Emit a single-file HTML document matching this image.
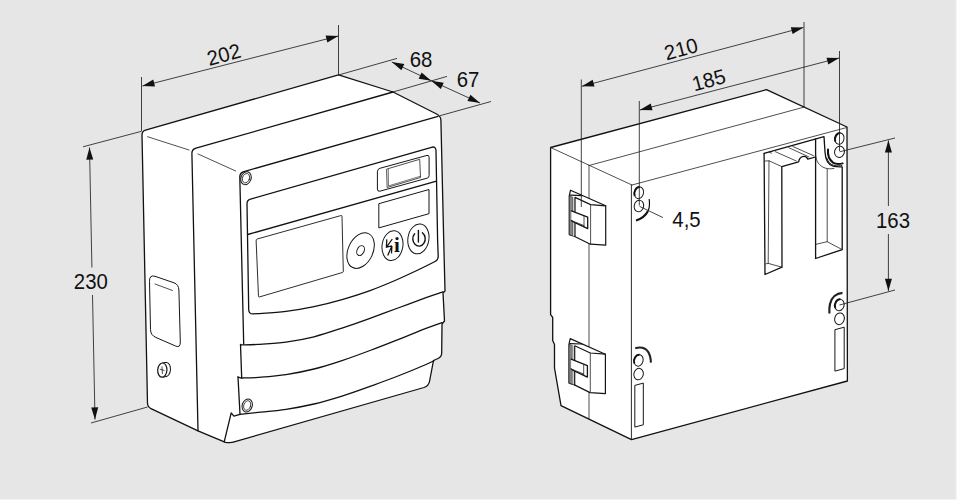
<!DOCTYPE html>
<html lang="en">
<head>
<meta charset="utf-8">
<title>Dimensions</title>
<style>
  html, body { margin: 0; padding: 0; background: #e6e6e6; }
  body { width: 957px; height: 500px; overflow: hidden; position: relative; }
  svg { display: block; position: absolute; left: 0; top: 0; }
  .edge-r { position: absolute; right: 0; top: 0; width: 2px; height: 500px; background: linear-gradient(to right, #ebebeb 0, #ebebeb 50%, #f4f4f4 50%, #f4f4f4 100%); }
  .edge-b { position: absolute; left: 0; bottom: 0; width: 957px; height: 1px; background: #f3f3f3; }
  text { font-family: "Liberation Sans", sans-serif; font-size: 20px; fill: #111; }
  .k  { fill: none; stroke: #111; stroke-width: 1.3; stroke-linejoin: round; stroke-linecap: round; }
  .m  { fill: none; stroke: #151515; stroke-width: 1.0; stroke-linejoin: round; stroke-linecap: round; }
  .t  { fill: none; stroke: #222; stroke-width: 0.8; stroke-linejoin: round; stroke-linecap: round; }
  .d  { fill: none; stroke: #222; stroke-width: 0.85; }
  .w  { fill: #fff; }
  .a  { fill: #111; stroke: none; }
</style>
</head>
<body>
<svg width="957" height="500" viewBox="0 0 957 500">
  <defs>
    <!-- arrow head pointing to +x, tip at origin -->
    <path id="ah" d="M0,0 L-12.2,-3.5 L-12.2,3.5 Z"/>
  </defs>

  <!-- ===================== LEFT DEVICE ===================== -->
  <g id="left-device">
    <!-- silhouette -->
    <path class="w k" d="M142,135 Q142,131.2 145.5,130.2 L338.5,74.8 L393,92 L436.6,114 Q440.6,116 440.9,120
      L443.7,240 L445,291 L443,293 L444.5,321 L442,324 L441.7,353 Q441.6,357 438,358.5 L433.5,360.5
      L429.6,381 Q428.8,386 424,387.5 L235,441.6 Q230.5,443.3 225.5,442.3 L198,430.8 L151,408.6 Q147.6,407 147.5,403 Z"/>

    <!-- second top edge + second vertical edge -->
    <path class="k" d="M393,92 L196,148.2 Q191.8,149.4 191.9,153.5 L198,430.8"/>
    <!-- front face top edge + left edge -->
    <path class="k" d="M438,116.3 L244,171.6 Q239.7,172.8 239.8,177 L243.7,344"/>
    <!-- crease lines -->
    <path class="t" d="M147.5,136.7 L189,150 M198,154 L235.7,171"/>

    <!-- screw top-left -->
    <g transform="translate(246 178.2) rotate(20)">
      <ellipse class="m" cx="0" cy="0" rx="5.1" ry="6.6"/>
      <ellipse class="t" cx="0" cy="0" rx="3.5" ry="4.8"/>
    </g>

    <!-- inner panel -->
    <path class="k" d="M247,204 Q246.9,200.2 250.5,199.2 L431.5,147.3 Q435.8,146 436,150.5 L437.6,240 L438.2,256
      Q438.3,260.3 434,262 C431.7,263.2 426.5,265.9 420,269 C413.5,272.1 403.3,276.9 395,280.5 C386.7,284.1 378.8,287.4 370,290.6 C361.2,293.8 351.3,296.9 342,299.6 C332.7,302.3 323.3,304.7 314,306.6 C304.7,308.6 295.3,310.1 286,311.3 C276.7,312.5 263.5,313.2 258,313.6 L253,313.9 Q248.8,314 248.7,309.6 Z"/>
    <!-- divider -->
    <path class="k" d="M247.8,234.5 L436.5,181.1"/>

    <!-- small window -->
    <path class="m" d="M377.4,171.4 Q377.4,169 379.9,168.3 L427,155.4 Q429.1,154.9 429.1,157.4 L429.1,175.6 Q429.1,177.6 427,178.2 L379.9,191.2 Q377.4,191.8 377.4,189.4 Z"/>
    <path class="t" d="M387,169 L419.7,159.3 L420.5,177.5 L387.5,187.4 Z"/>
    <path class="t" d="M388.3,169.4 L388.5,185.9 L420.2,176.3" style="stroke-width:0.6"/>
    <!-- second rect -->
    <path class="m" d="M379.2,203.6 L429,189.5 L429,213.7 L379.2,227.8 Z"/>
    <!-- large display -->
    <path class="m" d="M256.1,240.6 Q256,239.4 257.2,239 L340.8,215.6 Q342,215.2 342,216.4 L343.3,271.2 Q343.4,272.2 342.4,272.5 L259.6,296.9 Q258.6,297.3 258.5,296.2 Z" style="stroke-width:0.9"/>

    <!-- dial -->
    <g transform="translate(360.6 250.6) rotate(25)">
      <ellipse class="m" cx="0" cy="0" rx="12.4" ry="18.7"/>
      <ellipse class="m" cx="0" cy="0" rx="3.5" ry="5.2"/>
    </g>
    <!-- button 1 -->
    <g transform="translate(392.5 245.6) rotate(9)">
      <ellipse class="m" cx="0" cy="0" rx="10.4" ry="15"/>
    </g>
    <path d="M386.8,239.4 L386.4,247.1 L391.9,245.9 M392.3,239 L386.5,247.1 M391.9,245.9 L387.7,255.6 M391.9,245.9 L391.5,253.4" fill="none" stroke="#111" stroke-width="1.25" stroke-linejoin="miter"/>
    <text x="396.8" y="251.6" text-anchor="middle" style="font-family:'Liberation Serif',serif;font-weight:bold;font-size:21px">i</text>
    <!-- button 2 -->
    <g transform="translate(418.4 238.9) rotate(9)">
      <ellipse class="m" cx="0" cy="0" rx="10.5" ry="15"/>
    </g>
    <path d="M414.6,233.7 A6.2,7.3 0 1 0 422.4,232.7" fill="none" stroke="#111" stroke-width="1.4" stroke-linecap="round"/>
    <path d="M418.4,230.4 L418.4,242" fill="none" stroke="#111" stroke-width="1.4" stroke-linecap="round"/>

    <!-- front face bottom curve / flap curves -->
    <path class="k" d="M240.6,344.9 C243.5,344.8 250.4,344.9 258.0,344.4 C265.6,343.9 276.7,343.4 286.0,342.1 C295.3,340.8 304.7,339.1 314.0,336.8 C323.3,334.5 332.7,331.2 342.0,328.1 C351.3,325.0 360.7,321.7 370.0,318.3 C379.3,314.9 388.7,311.4 398.0,308.0 C407.3,304.6 418.5,300.3 426.0,297.6 C433.5,294.9 440.2,292.8 443.0,291.8"/>
    <path class="k" d="M240.5,344.5 L241.7,378"/>
    <path class="k" d="M238,377 L241.5,378 C244.2,377.9 250.6,378.0 258.0,377.4 C265.4,376.8 276.7,376.0 286.0,374.6 C295.3,373.2 304.7,371.3 314.0,369.0 C323.3,366.7 332.7,363.7 342.0,360.6 C351.3,357.5 360.7,354.0 370.0,350.5 C379.3,347.0 388.7,343.3 398.0,339.6 C407.3,335.9 418.7,331.2 426.0,328.4 C433.3,325.6 439.3,323.6 442.0,322.6"/>
    <path class="k" d="M238,377 L240,414.3 C243.0,414.0 250.3,413.2 258.0,412.4 C265.7,411.6 276.7,410.7 286.0,409.3 C295.3,407.9 304.7,406.2 314.0,404.0 C323.3,401.8 332.7,399.0 342.0,396.1 C351.3,393.2 360.7,389.8 370.0,386.4 C379.3,383.0 388.7,379.6 398.0,376.0 C407.3,372.4 420.0,367.1 426.0,364.5 C432.0,361.9 432.7,361.2 434.0,360.6"/>
    <!-- screw bottom-left -->
    <g transform="translate(247.2 405.5) rotate(20)">
      <ellipse class="m" cx="0" cy="0" rx="5" ry="6.6"/>
      <ellipse class="t" cx="0" cy="0" rx="3.4" ry="4.9"/>
    </g>
    <!-- base notch -->
    <path class="k" d="M240,414.3 L233.9,416.2 L231.2,412.9 L224.2,441.8"/>

    <!-- side window -->
    <path class="m" d="M149.5,281 Q149.3,274.5 155,276.3 L174,282.8 Q178.7,284.5 178.9,290 L180.3,342 Q180.5,348.3 175.5,346 L156,337.5 Q150.7,335.3 150.5,330 Z"/>
    <path class="t" d="M155,284 L172.5,290.5"/>
    <!-- side screw -->
    <ellipse class="m" cx="166" cy="369.5" rx="4.5" ry="7.1" transform="rotate(4 166 369.5)"/>
    <path d="M162.2,362.8 L166,362 L166,376.8 L163,377.4 Z" fill="#fff" stroke="none"/>
    <path class="m" d="M162.6,363 L166,362.4 M163,377.2 L166.4,376.5"/>
    <ellipse class="m w" cx="162.3" cy="370.1" rx="4.6" ry="7.1" transform="rotate(4 162.3 370.1)" style="stroke-width:1.2"/>
    <path class="t" d="M162,366.8 L162.4,373.6 M160.2,369.3 L164.1,370.4"/>
  </g>

  <!-- left device dimensions -->
  <g id="left-dims">
    <path class="d" d="M141.5,77 L141.5,131 M338.5,25 L338.5,75"/>
    <path class="d" d="M142.5,86 L338.3,36"/>
    <use href="#ah" class="a" transform="translate(142.3 86) rotate(165.7)"/>
    <use href="#ah" class="a" transform="translate(338.3 36) rotate(-14.3)"/>
    <text text-anchor="middle" transform="translate(225.8 61.5) rotate(-15) scale(1.02 1.04)">202</text>

    <path class="d" d="M338.5,75 L397,58.4 M393,92 L447,76.4 M440,115.7 L491,101.5"/>
    <path class="d" d="M391.8,62 L431.2,80.7 L480,103"/>
    <use href="#ah" class="a" transform="translate(391.8 62) rotate(204.9)"/>
    <use href="#ah" class="a" transform="translate(431.2 80.7) rotate(24.9)"/>
    <use href="#ah" class="a" transform="translate(431.2 80.7) rotate(204.9)"/>
    <use href="#ah" class="a" transform="translate(480 103) rotate(24.9)"/>
    <text text-anchor="middle" transform="translate(421 66.9) scale(1.02 1.07)">68</text>
    <text text-anchor="middle" transform="translate(468 86.9) scale(1.02 1.07)">67</text>

    <path class="d" d="M83,146.8 L141.5,131.3 M91,423 L147.5,407"/>
    <path class="d" d="M89.5,147.5 L91.9,267.5 M92.5,295 L95,419.5"/>
    <use href="#ah" class="a" transform="translate(89.5 147.5) rotate(-91.2)"/>
    <use href="#ah" class="a" transform="translate(95 419.5) rotate(88.8)"/>
    <text text-anchor="middle" transform="translate(90.8 288.8) scale(1.02 1.07)">230</text>
  </g>

  <!-- ===================== RIGHT DEVICE ===================== -->
  <g id="right-device">
    <!-- silhouette -->
    <path class="w k" d="M550.6,147.5 L766.5,89.7 L847,127 L847.4,381 L631.5,439.6 L561,405.6 L554.5,368 L554.5,344.5 L552.7,340.6 L552.7,317.3 L550.6,314.7 Z"/>
    <!-- thin structure lines -->
    <path class="t" d="M550.6,147.5 L632,185 M589,165.5 L804.5,107 M632,185 L846.5,127.6 M589,165.5 L589,418.6"/>
    <path class="t" d="M631.4,185 L631.4,439.2" style="stroke-width:0.95"/>

    <!-- upper clip -->
    <g id="clip">
      <path class="w m" d="M570.5,190.2 L605.7,205.8 L605.7,245.2 L590.4,244.2 L574.2,236.2 L569.3,234.7 L569.3,195.7 Z" style="stroke-width:1.2"/>
      <path d="M569.3,195.7 L572.7,197.3 L572.7,235.8 L569.3,234.7 Z" fill="#858585" stroke="#333" stroke-width="0.7"/>
      <path d="M572.9,197.3 L574.6,197.6 L574.6,236.2 L572.9,235.8 Z" fill="#cfcfcf" stroke="none"/>
      <path class="m" d="M570.3,195.2 L582.4,195.6 M575,197.4 L590.6,204.6 L605.7,205.8 M575,197.4 L575,212.2 M575,222.7 L575,236.5" style="stroke-width:1.2"/>
      <path class="t" d="M590.6,204.6 L590.6,244.2"/>
      <path class="m w" d="M571.4,210.8 L587.7,217.2 L587.7,228.7 L575,222.7 L571.4,220.6" style="stroke-width:1.3"/>
      <path class="t" d="M584,216.2 L584,226.6 M571.4,220.6 L584,225.6"/>
    </g>
    <use href="#clip" transform="translate(-0.3 148.4)"/>

    <!-- top-left hole group -->
    <g transform="translate(639 192.8) rotate(14)">
      <ellipse class="m" cx="0" cy="0" rx="4.5" ry="5.9"/>
      <path d="M-0.5,-5.8 A4.5,5.9 0 0 0 -3.4,4" fill="none" stroke="#111" stroke-width="2"/>
    </g>
    <ellipse class="m" cx="638.9" cy="206" rx="4.7" ry="5.8" transform="rotate(14 638.9 206)"/>
    <path d="M649.2,199 C649.8,204 649.6,208 648,211" fill="none" stroke="#111" stroke-width="1.2"/>
    <path d="M648,211 C646,215 642,218.6 636,220.4" fill="none" stroke="#111" stroke-width="2.1"/>
    <path class="d" d="M639.6,206.4 L663,217.6"/>

    <!-- bottom-left hole group -->
    <path d="M635.2,348.3 C641,346.6 645.6,348.4 648,351.6 C650,354.6 650.8,358.6 650.9,362.6" fill="none" stroke="#222" stroke-width="2.1"/>
    <g transform="translate(638.6 360.4) rotate(14)">
      <ellipse class="m" cx="0" cy="0" rx="4.5" ry="5.8"/>
      <path d="M-0.5,-5.7 A4.5,5.8 0 0 0 -3.4,3.9" fill="none" stroke="#111" stroke-width="2"/>
    </g>
    <ellipse class="m" cx="638.6" cy="374.1" rx="4.7" ry="5.8" transform="rotate(14 638.6 374.1)"/>
    <path class="m" d="M635.2,385.3 L643.3,383.1 L643.3,424.8 L635.2,427 Z"/>

    <!-- top-right hole group -->
    <g transform="translate(839.5 138.6) rotate(14)">
      <ellipse class="m" cx="0" cy="0" rx="4.5" ry="5.7"/>
      <path d="M-0.5,-5.6 A4.5,5.7 0 0 0 -3.4,3.8" fill="none" stroke="#111" stroke-width="2.1"/>
    </g>
    <ellipse class="m" cx="839.5" cy="151.8" rx="4.9" ry="5.7" transform="rotate(14 839.5 151.8)"/>
    <path d="M828,149.5 C827.6,154 828.4,159 833,162.6 C836,164.4 840,164 842.6,163.4" fill="none" stroke="#111" stroke-width="2" stroke-linecap="round"/>
    <path d="M826.6,157.6 C828,161.6 830,164.4 834,165.4 C837,166 840,165.8 842.2,165.4" fill="none" stroke="#111" stroke-width="0.9"/>
    <!-- bottom-right hole group -->
    <path d="M842.5,292.8 C836.4,293.2 831.4,297.4 830,304 C829.2,307.6 829.2,310.6 829.4,313.5" fill="none" stroke="#222" stroke-width="2.2"/>
    <g transform="translate(839.5 305) rotate(14)">
      <ellipse class="m" cx="0" cy="0" rx="4.6" ry="5.8"/>
      <path d="M-0.5,-5.7 A4.6,5.8 0 0 0 -3.4,3.9" fill="none" stroke="#111" stroke-width="2"/>
    </g>
    <ellipse class="m" cx="839.5" cy="318.8" rx="4.8" ry="5.9" transform="rotate(14 839.5 318.8)"/>
    <path class="m" d="M835.3,329.6 L844.2,327.2 L844.2,368.6 L835.3,371 Z"/>

    <!-- recess -->
    <g id="recess">
      <!-- outer outline -->
      <path class="k" d="M764.1,153.4 L824,136.6 L825,152 C825.4,159 828,164.6 833,166.2 C836,167 839,167 842.2,166.9 L842.2,249.6 L815.6,258.5 L815.6,139"/>
      <path class="k" d="M764.1,153.4 L765,274.5 L782,267.2 L781.8,166.6 L798.6,161.8 Q799.4,157.4 802.6,156.6 Q806.4,155.8 807.8,159.2 L815.5,157"/>
      <!-- inner lines -->
      <path class="t" d="M765,161 L769,160.8 L781.8,166.6 M769,160.8 L768.2,263.4 L782,267.2 M766,263.8 L768.2,263.4"/>
      <path class="t" d="M775.4,151.7 L796.3,161 M788.8,147.7 L809,157 M792.8,146.5 L813.7,155.8 M769,152 L771.5,153.2"/>
      <path class="t" d="M815.6,155 C816,161 819,166 825,168 C828,169 831,169 834,168.4 M827.2,169 L827.2,241.7 L815.6,244.4 M827.2,241.7 L842.2,249.6"/>
    </g>
  </g>

  <!-- right device dimensions -->
  <g id="right-dims">
    <path class="d" d="M581.3,79.5 L581.3,207 M639.3,101 L639.3,205.5 M804,22 L804,107 M839.5,51 L839.5,151"/>
    <path class="d" d="M582,86.3 L803.3,27.5 M640,110 L839,58"/>
    <use href="#ah" class="a" transform="translate(581.8 86.3) rotate(165.1)"/>
    <use href="#ah" class="a" transform="translate(803.5 27.5) rotate(-14.9)"/>
    <use href="#ah" class="a" transform="translate(639.8 110) rotate(165.4)"/>
    <use href="#ah" class="a" transform="translate(839.2 58) rotate(-14.6)"/>
    <text text-anchor="middle" transform="translate(682.9 56.0) rotate(-15) scale(1.02 1.04)">210</text>
    <text text-anchor="middle" transform="translate(710.6 87.0) rotate(-15) scale(1.02 1.04)">185</text>
    <text transform="translate(672.3 227) scale(1.02 1.07)">4,5</text>

    <path class="d" d="M839.6,151.8 L895,138 M839.5,305 L895,290"/>
    <path class="d" d="M888.4,140.5 L888.4,206 M888.4,234 L888.4,291"/>
    <use href="#ah" class="a" transform="translate(888.4 140.2) rotate(-90)"/>
    <use href="#ah" class="a" transform="translate(888.4 291) rotate(90)"/>
    <text text-anchor="middle" transform="translate(893 228) scale(1.02 1.07)">163</text>
  </g>
</svg>
<div class="edge-r"></div>
<div class="edge-b"></div>
</body>
</html>
